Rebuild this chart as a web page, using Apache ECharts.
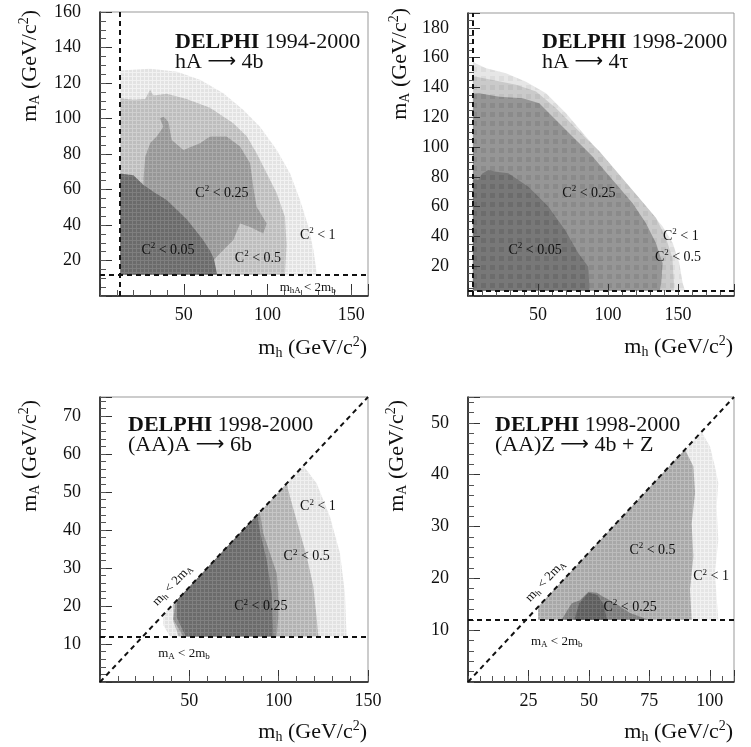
<!DOCTYPE html>
<html>
<head>
<meta charset="utf-8">
<script src="https://cdn.jsdelivr.net/npm/echarts@6/dist/echarts.min.js"></script>
<style>
  html, body { margin: 0; padding: 0; background: #fff; }
  #chart { width: 751px; height: 747px; }
</style>
</head>
<body>
<div id="chart"></div>
<script>
// ---- data (GeV/c^2) ----

// panel 1 : hA -> 4b
const p1Xticks = [50, 100, 150];
const p1Yticks = [20, 40, 60, 80, 100, 120, 140, 160];
const p1Cut = 12;
const p1C1 = [[12,12],[12,127],[30,128],[46,126.4],[60,121.7],[73.6,114.2],[85.6,104.8],[95.5,95.4],[105.5,82.3],[113.4,69.1],[119.4,54.1],[124.4,39.1],[127.4,26],[129.5,12]];
const p1C05 = [[12,12],[12,111.4],[20,110.5],[27,111],[29.9,116],[32,113],[39.8,114],[51.7,111],[65.7,106],[79.6,97.3],[87.6,90],[93.5,80.4],[99.5,69.1],[105.5,57.9],[110.4,44.7],[111.4,28.8],[110.4,12]];
const p1C025 = [[26,66],[27,78.5],[30,86.2],[34,90],[37.8,95.4],[35.8,100.1],[38,101],[40.8,98.2],[42.8,87.9],[49.8,82.3],[59.7,86],[65.7,89.8],[75.6,89.8],[83.6,84.2],[89.6,74.8],[91.5,61.6],[93.5,50.3],[99.5,40.9],[97.5,35.2],[89.6,38.9],[83.6,40.9],[79.6,31.5],[73.6,25.9],[67.7,20.2],[60,30],[40,45],[26,60]];
const p1C005 = [[12,12],[12,69],[20,68],[26,62.5],[33,58],[40,54],[46,48.5],[52,43],[57,37],[62,31],[66,25],[68,21],[70,12]];
const p1Labels = [[72.8,58,'0.25'],[40.6,25.9,'0.05'],[94.3,21.4,'0.5'],[130,34.4,'1']];

// panel 2 : hA -> 4tau
const p2Xticks = [50, 100, 150];
const p2Yticks = [20, 40, 60, 80, 100, 120, 140, 160, 180];
const p2Cut = 3.5;
const p2C1 = [[3.5,3.5],[3.5,157.3],[6,156],[12.9,152.9],[27.1,149.5],[41.4,143.9],[55.7,136.1],[70,122.7],[84.3,107],[98.6,91.4],[112.9,75.7],[127.1,60.1],[139,46.7],[146.2,35.5],[150.9,22.1],[153.3,8.7],[155,3.5]];
const p2C05 = [[3.5,3.5],[3.5,147],[5.7,147.2],[17.6,145],[34.3,141.8],[48.6,137.3],[62.9,126.1],[77.1,112.7],[93.8,97.1],[108.1,81.4],[122.4,65.7],[134.3,52.3],[141.4,38.9],[146,25.5],[147,9.8],[147,3.5]];
const p2C025 = [[3.5,3.5],[3.5,136],[8.1,136.1],[22.4,133.8],[39,132.7],[50.9,129.4],[60.5,120.4],[74.8,107],[89,93.6],[103.3,77.9],[117.6,62.2],[127.1,48.8],[134.3,35.4],[139,22],[138,8.6],[137,3.5]];
const p2C005 = [[3.5,3.5],[3.5,78],[7.4,77.9],[10,82],[14.5,84.6],[20,83.5],[28.8,82.4],[43.1,73.4],[57.4,60],[69.3,44.3],[78.8,28.7],[85.9,19.7],[86.6,8.5],[86.6,3.5]];
const p2Labels = [[86.4,69.2,'0.25'],[47.9,30.9,'0.05'],[152,40.3,'1'],[150,26.2,'0.5']];

// panel 3 : (AA)A -> 6b
const p3Xticks = [50, 100, 150];
const p3Yticks = [10, 20, 30, 40, 50, 60, 70];
const p3Cut = 12;
const p3Diag = [[0,0],[150,75]];
const p3C1 = [[35.4,17.7],[113.8,56.9],[121.2,52.3],[128.7,43.5],[134.3,33.9],[137.1,23.3],[138,12],[39.2,12],[35.4,15]];
const p3C05 = [[41,20.5],[104.5,52.25],[106.3,48.8],[111,40.9],[115.7,33],[119.4,25.1],[121.2,17.2],[122.2,12],[44,12],[41,16]];
const p3C025 = [[42,21],[89.5,44.75],[91.4,39.1],[95.1,33.9],[98.9,28.6],[99.8,23.3],[99.8,17.2],[98.9,12],[46.6,12],[41,16.5],[42,19.8]];
const p3Core = [[43,21.5],[88,44],[89.5,39.6],[93.3,32.1],[96.1,23.3],[97,12],[48,12],[43,17]];
const p3Labels = [[122,46.1,'1'],[115.7,33,'0.5'],[90,19.8,'0.25']];
const p3DiagLabel = [40.5, 25.5];
const p3CutLabel = [47, 7.6];

// panel 4 : (AA)Z -> 4b + Z
const p4Xticks = [25, 50, 75, 100];
const p4Yticks = [10, 20, 30, 40, 50];
const p4Cut = 12;
const p4Diag = [[0,0],[110,55]];
const p4C1 = [[29,14.5],[96.6,48.3],[100.1,45.4],[102.1,41.6],[103.5,38.4],[102.8,33.8],[103.5,27.4],[102.1,21],[102.8,16.5],[103.5,12],[29,12]];
const p4C05 = [[29,14.5],[89.7,44.85],[93.2,41.6],[93.9,36.5],[92.5,30.6],[93.2,24.2],[91.8,17.8],[92.5,12],[29,12]];
const p4C025 = [[38.7,12],[42.9,15.2],[46.3,15.8],[49.8,17.4],[53.3,17.2],[55.4,16.6],[60.9,15.2],[67,13.3],[74.6,12]];
const p4Core = [[44,12],[46,15.2],[49.8,17.2],[53.5,16.8],[56,15],[57.5,12]];
const p4Labels = [[76.3,25.5,'0.5'],[100.5,20.3,'1'],[67,14.5,'0.25']];
const p4DiagLabel = [32, 19.5];
const p4CutLabel = [36.7, 7.8];

// ---- drawing ----
const FONT = 'Liberation Serif';
const chart = echarts.init(document.getElementById('chart'));

// cell texture of the scan grid
function cells(base, line, size, lw) {
    const c = document.createElement('canvas');
    c.width = c.height = size;
    const g = c.getContext('2d');
    g.fillStyle = base;
    g.fillRect(0, 0, size, size);
    g.fillStyle = line;
    g.fillRect(0, 0, size, lw);
    g.fillRect(0, 0, lw, size);
    return { image: c, repeat: 'repeat' };
}

const rich = {
    sup: { fontFamily: FONT, fontSize: 9, padding: [0, 0, 8, 0] },
    sub: { fontFamily: FONT, fontSize: 9, padding: [7, 0, 0, 0] }
};
const richBig = {
    sup: { fontFamily: FONT, fontSize: 14, padding: [0, 0, 12, 0] },
    sub: { fontFamily: FONT, fontSize: 14, padding: [10, 0, 0, 0] }
};

const grids = [
    { left: 100, top: 12, width: 268, height: 284 },
    { left: 468, top: 13, width: 266, height: 283 },
    { left: 100, top: 397, width: 268, height: 285 },
    { left: 468, top: 397, width: 266, height: 285 }
];

const axisDefs = [
    { x: [0, 160, 50, 10, p1Xticks], y: [0, 160, 20, 5, p1Yticks] },
    { x: [0, 190, 50, 10, p2Xticks], y: [0, 190, 20, 5, p2Yticks] },
    { x: [0, 150, 50, 10, p3Xticks], y: [0, 75, 10, 2, p3Yticks] },
    { x: [0, 110, 25, 5, p4Xticks], y: [0, 55, 10, 2, p4Yticks] }
];

const xAxes = [], yAxes = [];
axisDefs.forEach((d, g) => {
    [['x', xAxes, 'bottom', 10], ['y', yAxes, 'left', 19]].forEach(([k, list, pos, margin]) => {
        const [min, max, major, minor, shown] = d[k];
        list.push({
            type: 'value', gridIndex: g, position: pos, min: min, max: max, interval: major, z: 4,
            axisLine: { show: true, lineStyle: { color: '#111', width: 1.5 } },
            axisTick: { show: true, inside: true, length: 12, lineStyle: { color: '#333' } },
            axisLabel: {
                margin: margin, color: '#111', fontFamily: FONT, fontSize: 18,
                formatter: v => shown.indexOf(v) >= 0 ? String(v) : ''
            },
            splitLine: { show: false }
        });
        list.push({
            type: 'value', gridIndex: g, position: pos, min: min, max: max, interval: minor, z: 4,
            axisLine: { show: false },
            axisTick: { show: true, inside: true, length: 6, lineStyle: { color: '#555' } },
            axisLabel: { show: false },
            splitLine: { show: false }
        });
    });
});

const dash = { color: '#111', width: 2, type: [5, 4] };

function regionSeries(g, regions, lines) {
    return {
        type: 'custom', xAxisIndex: 2 * g, yAxisIndex: 2 * g, clip: true,
        data: regions.map(r => r.pts[0]),
        renderItem: (params, api) => {
            const r = regions[params.dataIndex];
            return {
                type: 'polygon',
                shape: { points: r.pts.map(p => api.coord(p)) },
                style: { fill: r.fill }
            };
        },
        markLine: { silent: true, symbol: ['none', 'none'], label: { show: false }, lineStyle: dash, data: lines }
    };
}

function labelSeries(g, labels, extra) {
    const items = labels.map(l => ({ pos: [l[0], l[1]], text: 'C{sup|2} < ' + l[2] })).concat(extra || []);
    return {
        type: 'custom', xAxisIndex: 2 * g, yAxisIndex: 2 * g, z: 6,
        data: items.map(it => it.pos),
        renderItem: (params, api) => {
            const it = items[params.dataIndex];
            const p = api.coord(it.pos);
            let rot = 0;
            if (it.along) {
                const a = api.coord(it.along[0]), b = api.coord(it.along[1]);
                rot = Math.atan2(a[1] - b[1], b[0] - a[0]);
            }
            return {
                type: 'text', x: p[0], y: p[1], rotation: rot,
                style: {
                    text: it.text, rich: rich, fill: '#111', fontFamily: FONT, fontSize: it.size || 14,
                    align: 'center', verticalAlign: 'middle'
                }
            };
        }
    };
}

const series = [
    regionSeries(0, [
        { pts: p1C1, fill: cells('#e3e3e3', '#f2f2f2', 4, 1) },
        { pts: p1C05, fill: cells('#bdbdbd', '#cfcfcf', 4, 1) },
        { pts: p1C025, fill: cells('#979797', '#aaaaaa', 4, 1) },
        { pts: p1C005, fill: cells('#6b6b6b', '#7f7f7f', 4, 1) }
    ], [{ xAxis: p1Cut }, { yAxis: p1Cut }]),
    labelSeries(0, p1Labels, [{ pos: [124, 4.8], text: 'm{sub|hA} < 2m{sub|b}', size: 13 }]),

    regionSeries(1, [
        { pts: p2C1, fill: cells('#dcdcdc', '#e6e6e6', 9, 4) },
        { pts: p2C05, fill: cells('#c0c0c0', '#cacaca', 9, 4) },
        { pts: p2C025, fill: cells('#8a8a8a', '#969696', 9, 4) },
        { pts: p2C005, fill: cells('#6c6c6c', '#787878', 9, 4) }
    ], [{ xAxis: p2Cut }, { yAxis: p2Cut }]),
    labelSeries(1, p2Labels),

    regionSeries(2, [
        { pts: p3C1, fill: cells('#e2e2e2', '#f0f0f0', 4, 1) },
        { pts: p3C05, fill: cells('#b2b2b2', '#c6c6c6', 4, 1) },
        { pts: p3C025, fill: cells('#8c8c8c', '#a0a0a0', 4, 1) },
        { pts: p3Core, fill: cells('#6b6b6b', '#808080', 4, 1) }
    ], [{ yAxis: p3Cut }, [{ coord: p3Diag[0] }, { coord: p3Diag[1] }]]),
    labelSeries(2, p3Labels, [
        { pos: p3DiagLabel, text: 'm{sub|h} < 2m{sub|A}', size: 13, along: p3Diag },
        { pos: p3CutLabel, text: 'm{sub|A} < 2m{sub|b}', size: 13 }
    ]),

    regionSeries(3, [
        { pts: p4C1, fill: cells('#e5e5e5', '#f2f2f2', 4, 1) },
        { pts: p4C05, fill: cells('#a8a8a8', '#bcbcbc', 4, 1) },
        { pts: p4C025, fill: cells('#7b7b7b', '#8e8e8e', 4, 1) },
        { pts: p4Core, fill: cells('#5e5e5e', '#707070', 4, 1) }
    ], [{ yAxis: p4Cut }, [{ coord: p4Diag[0] }, { coord: p4Diag[1] }]]),
    labelSeries(3, p4Labels, [
        { pos: p4DiagLabel, text: 'm{sub|h} < 2m{sub|A}', size: 13, along: p4Diag },
        { pos: p4CutLabel, text: 'm{sub|A} < 2m{sub|b}', size: 13 }
    ])
];

// titles and axis names
function txt(x, y, text, opts) {
    return Object.assign({
        type: 'text', x: x, y: y, z: 10,
        style: Object.assign({ text: text, fill: '#111', fontFamily: FONT, fontSize: 22, rich: richBig }, opts.style)
    }, opts.el || {});
}
const titleRich = {
    b: { fontFamily: FONT, fontSize: 22, fontWeight: 'bold', lineHeight: 20 },
    arr: { fontFamily: 'DejaVu Sans', fontSize: 20, lineHeight: 20 }
};
const titleStyle = { rich: titleRich, lineHeight: 20, verticalAlign: 'top', fontSize: 22 };
const graphic = [
    txt(175, 32, '{b|DELPHI} 1994-2000\nhA {arr|\u27f6} 4b', { style: titleStyle }),
    txt(542, 32, '{b|DELPHI} 1998-2000\nhA {arr|\u27f6} 4\u03c4', { style: titleStyle }),
    txt(128, 415, '{b|DELPHI} 1998-2000\n(AA)A {arr|\u27f6} 6b', { style: titleStyle }),
    txt(495, 415, '{b|DELPHI} 1998-2000\n(AA)Z {arr|\u27f6} 4b + Z', { style: titleStyle })
];
[[30, 10], [400, 8], [30, 400], [397, 400]].forEach(p => {
    graphic.push(txt(p[0], p[1], 'm{sub|A} (GeV/c{sup|2})', {
        style: { align: 'right', verticalAlign: 'middle' }, el: { rotation: Math.PI / 2 }
    }));
});
[[367, 348], [733, 347], [367, 732], [733, 732]].forEach(p => {
    graphic.push(txt(p[0], p[1], 'm{sub|h} (GeV/c{sup|2})', { style: { align: 'right', verticalAlign: 'middle' } }));
});

chart.setOption({
    animation: false,
    backgroundColor: '#fff',
    grid: grids.map(g => Object.assign({ show: true, borderColor: '#999', borderWidth: 1, backgroundColor: '#fff' }, g)),
    xAxis: xAxes,
    yAxis: yAxes,
    series: series,
    graphic: graphic
});

window.addEventListener('resize', function() {
    chart.resize();
});
</script>
</body>
</html>
